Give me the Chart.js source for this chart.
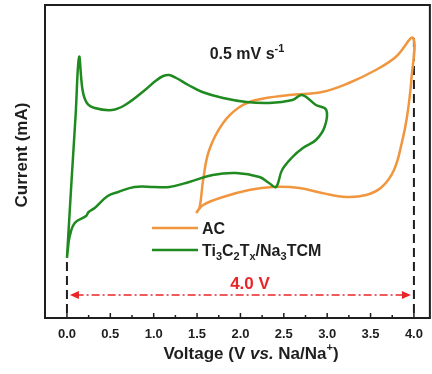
<!DOCTYPE html>
<html>
<head>
<meta charset="utf-8">
<script src="https://cdn.jsdelivr.net/npm/chart.js@4.4.1/dist/chart.umd.min.js"></script>
<style>
  html, body { margin: 0; padding: 0; background: #fff; }
  canvas { display: block; }
</style>
</head>
<body>
<canvas id="cv" width="432" height="374"></canvas>
<script>
// voltage (V) and current (arbitrary mA)
const acV = [1.49, 1.53, 1.57, 1.64, 1.80, 1.99, 2.18, 2.56, 2.94, 3.25, 3.56, 3.79, 3.99, 3.97, 3.92, 3.86, 3.77, 3.63, 3.45, 3.22, 2.94, 2.68, 2.37, 2.10, 1.80, 1.57, 1.49];
const acI = [-0.13, -0.07, 0.20, 0.50, 0.77, 0.93, 1.00, 1.05, 1.08, 1.17, 1.30, 1.43, 1.62, 1.20, 0.83, 0.57, 0.30, 0.13, 0.05, 0.03, 0.07, 0.12, 0.13, 0.10, 0.03, -0.05, -0.13];

const tiV = [0.00, 0.05, 0.10, 0.14, 0.18, 0.23, 0.32, 0.52, 0.67, 0.90, 1.02, 1.11, 1.18, 1.26, 1.40, 1.56, 1.80, 2.07, 2.33, 2.60, 2.71, 2.87, 2.99, 2.97, 2.87, 2.72, 2.60, 2.48, 2.41, 2.33, 2.22, 1.95, 1.68, 1.41, 1.18, 1.01, 0.78, 0.59, 0.47, 0.32, 0.25, 0.22, 0.09, 0.03, 0.01, 0.00];
const tiI = [-0.58, 0.15, 0.85, 1.43, 1.10, 0.97, 0.92, 0.90, 0.95, 1.10, 1.19, 1.24, 1.25, 1.22, 1.15, 1.08, 1.02, 0.98, 0.97, 1.00, 1.05, 0.95, 0.90, 0.73, 0.60, 0.52, 0.43, 0.30, 0.13, 0.17, 0.23, 0.27, 0.25, 0.18, 0.13, 0.13, 0.13, 0.08, 0.04, -0.08, -0.12, -0.16, -0.23, -0.37, -0.50, -0.58];

const xTicks = [0, 0.25, 0.5, 0.75, 1, 1.25, 1.5, 1.75, 2, 2.25, 2.5, 2.75, 3, 3.25, 3.5, 3.75, 4];
const windowV = [0, 4];      // potential window edges
const windowLabel = '4.0 V';

const ORANGE = '#f0963f';
const GREEN = '#1f8a1f';
const RED = '#e8262a';
const INK = '#1e1e1e';
const FONT = '"Liberation Sans", Arial, sans-serif';

const toPts = (xs, ys) => xs.map((x, i) => ({x: x, y: ys[i]}));
const yMin = -1.18, yMax = 1.95;

// draws a run of text pieces, with sub/superscripts
function richText(ctx, x, y, parts, align) {
  let w = 0;
  parts.forEach(p => { ctx.font = 'bold ' + p.s + 'px ' + FONT; w += ctx.measureText(p.t).width; });
  let cx = align === 'center' ? x - w / 2 : x;
  parts.forEach(p => {
    ctx.font = 'bold ' + p.s + 'px ' + FONT;
    ctx.fillText(p.t, cx, y + (p.dy || 0));
    cx += ctx.measureText(p.t).width;
  });
}

const extras = {
  id: 'extras',
  afterDatasetsDraw(chart) {
    const {ctx, chartArea: a, scales: {x, y}} = chart;
    ctx.save();
    // frame
    ctx.strokeStyle = INK;
    ctx.lineWidth = 2;
    ctx.strokeRect(a.left, a.top, a.right - a.left, a.bottom - a.top);
    // inward ticks on the voltage axis
    ctx.lineWidth = 1.5;
    xTicks.forEach(v => {
      const px = x.getPixelForValue(v);
      const len = (Math.round(v * 100) % 50 === 0) ? 5 : 3;
      ctx.beginPath();
      ctx.moveTo(px, a.bottom);
      ctx.lineTo(px, a.bottom - len);
      ctx.stroke();
    });
    // arrow heads on the window line
    const ay = y.getPixelForValue(-0.95);
    const xl = x.getPixelForValue(windowV[0]) + 3;
    const xr = x.getPixelForValue(windowV[1]) - 3;
    ctx.fillStyle = RED;
    ctx.beginPath();
    ctx.moveTo(xl, ay); ctx.lineTo(xl + 9, ay - 4); ctx.lineTo(xl + 9, ay + 4); ctx.closePath();
    ctx.fill();
    ctx.beginPath();
    ctx.moveTo(xr, ay); ctx.lineTo(xr - 9, ay - 4); ctx.lineTo(xr - 9, ay + 4); ctx.closePath();
    ctx.fill();
    ctx.textBaseline = 'alphabetic';
    ctx.textAlign = 'left';
    richText(ctx, 250, 289, [{t: windowLabel, s: 17}], 'center');

    // scan rate
    ctx.fillStyle = INK;
    richText(ctx, 247, 59, [{t: '0.5 mV s', s: 16}, {t: '-1', s: 11, dy: -7}], 'center');

    // legend
    ctx.lineWidth = 2.5;
    ctx.strokeStyle = ORANGE;
    ctx.beginPath(); ctx.moveTo(152, 228); ctx.lineTo(198, 228); ctx.stroke();
    ctx.strokeStyle = GREEN;
    ctx.beginPath(); ctx.moveTo(152, 250); ctx.lineTo(198, 250); ctx.stroke();
    richText(ctx, 202, 234, [{t: 'AC', s: 16}], 'left');
    richText(ctx, 202, 256, [
      {t: 'Ti', s: 16}, {t: '3', s: 11, dy: 4}, {t: 'C', s: 16}, {t: '2', s: 11, dy: 4},
      {t: 'T', s: 16}, {t: 'x', s: 11, dy: 4}, {t: '/Na', s: 16}, {t: '3', s: 11, dy: 4}, {t: 'TCM', s: 16}
    ], 'left');

    // axis titles
    const segs = [['Voltage (V ', 'bold'], ['vs.', 'italic bold'], [' Na/Na', 'bold']];
    let tw = 0;
    segs.forEach(s => { ctx.font = s[1] + ' 17px ' + FONT; tw += ctx.measureText(s[0]).width; });
    ctx.font = 'bold 11px ' + FONT;
    tw += ctx.measureText('+').width;
    ctx.font = 'bold 17px ' + FONT;
    tw += ctx.measureText(')').width;
    let cx = 251 - tw / 2;
    segs.forEach(s => { ctx.font = s[1] + ' 17px ' + FONT; ctx.fillText(s[0], cx, 359); cx += ctx.measureText(s[0]).width; });
    ctx.font = 'bold 11px ' + FONT;
    ctx.fillText('+', cx, 351); cx += ctx.measureText('+').width;
    ctx.font = 'bold 17px ' + FONT;
    ctx.fillText(')', cx, 359);

    ctx.translate(22, 155);
    ctx.rotate(-Math.PI / 2);
    ctx.textAlign = 'center';
    ctx.textBaseline = 'middle';
    ctx.fillText('Current (mA)', 0, 0);
    ctx.restore();
  }
};

new Chart(document.getElementById('cv'), {
  type: 'scatter',
  data: {
    datasets: [
      {
        label: 'AC',
        data: toPts(acV, acI),
        showLine: true, borderColor: ORANGE, borderWidth: 2.5,
        pointRadius: 0, tension: 0.4, order: 2
      },
      {
        label: 'Ti3C2Tx/Na3TCM',
        data: toPts(tiV, tiI),
        showLine: true, borderColor: GREEN, borderWidth: 2.5,
        pointRadius: 0, tension: 0.4, order: 1
      },
      {
        data: [{x: windowV[0], y: -0.62}, {x: windowV[0], y: yMin}],
        showLine: true, borderColor: INK, borderWidth: 2, borderDash: [9, 5],
        pointRadius: 0, order: 3
      },
      {
        data: [{x: windowV[1], y: acI[12]}, {x: windowV[1], y: yMin}],
        showLine: true, borderColor: INK, borderWidth: 2, borderDash: [9, 5],
        pointRadius: 0, order: 3
      },
      {
        data: [{x: windowV[0] + 0.1, y: -0.95}, {x: windowV[1] - 0.1, y: -0.95}],
        showLine: true, borderColor: RED, borderWidth: 1.5, borderDash: [8, 3, 2, 3],
        pointRadius: 0, order: 3
      }
    ]
  },
  options: {
    responsive: false,
    animation: false,
    layout: {padding: {top: 5, right: 1, left: 0, bottom: 0}},
    plugins: {legend: {display: false}, tooltip: {enabled: false}},
    scales: {
      x: {
        type: 'linear', min: -0.253, max: 4.184,
        afterBuildTicks: s => { s.ticks = xTicks.map(v => ({value: v})); },
        ticks: {
          autoSkip: false, maxRotation: 0, padding: 9,
          color: INK, font: {family: FONT, size: 13, weight: 'bold'},
          callback: v => (Math.round(v * 100) % 50 === 0) ? v.toFixed(1) : ''
        },
        grid: {display: false, drawTicks: false},
        border: {display: false},
        afterFit: s => { s.height = 56; }
      },
      y: {
        min: yMin, max: yMax,
        ticks: {display: false},
        grid: {display: false, drawTicks: false},
        border: {display: false},
        afterFit: s => { s.width = 45; }
      }
    }
  },
  plugins: [extras]
});
</script>
</body>
</html>
